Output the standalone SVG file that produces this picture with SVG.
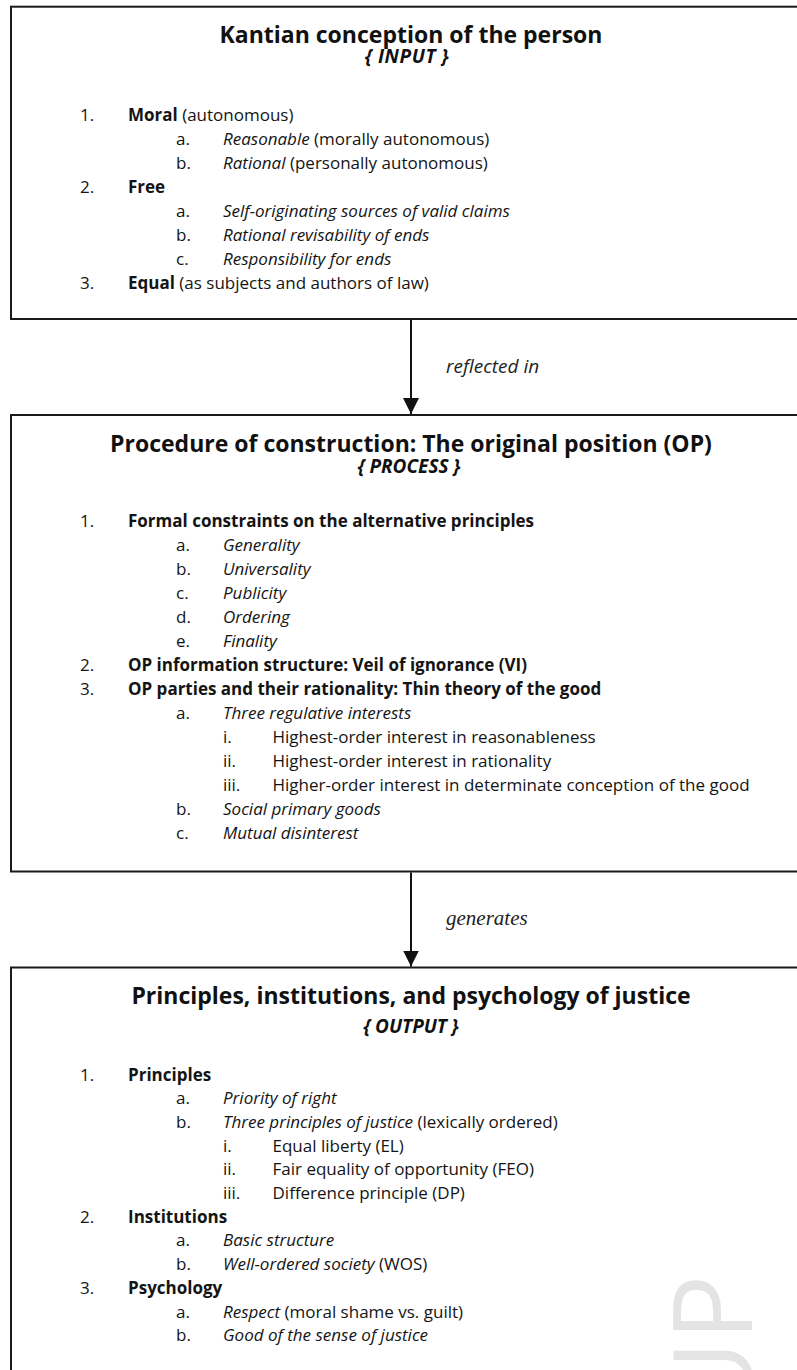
<svg xmlns="http://www.w3.org/2000/svg" width="797" height="1370" viewBox="0 0 797 1370">
  <style>
    .t { font-family: "Open Sans", "Noto Sans", sans-serif; font-size: 17px; fill: #141414; }
    .b { font-weight: 700; }
    .i { font-style: italic; }
    .title { font-family: "Open Sans", "Noto Sans", sans-serif; font-size: 23px; font-weight: 700; fill: #111; text-anchor: middle; }
    .sub { font-family: "Open Sans", "Noto Sans", sans-serif; font-size: 19px; font-weight: 700; font-style: italic; fill: #111; text-anchor: middle; }
    .box { fill: #fff; stroke: #1a1a1a; stroke-width: 2; }
    .edge { stroke: #111; stroke-width: 2; fill: none; }
    .lbl-sans { font-family: "Open Sans", "Noto Sans", sans-serif; font-size: 19px; font-style: italic; fill: #222; }
    .lbl-serif { font-family: "Liberation Serif", "Times New Roman", serif; font-size: 21px; font-style: italic; fill: #222; }
    .mark { font-family: "Open Sans", "Noto Sans", sans-serif; font-size: 110px; fill: #e4e4e4; }
  </style>
  <defs>
    <marker id="arrow" viewBox="0 0 16 16" refX="16" refY="8" markerWidth="16" markerHeight="16" markerUnits="userSpaceOnUse" orient="auto">
      <path d="M0,0 L16,8 L0,16 z" fill="#111"/>
    </marker>
  </defs>

  <rect width="797" height="1370" fill="#fff"/>

  <!-- INPUT: Kantian conception of the person -->
  <g id="input">
    <rect class="box" x="11" y="6.7" width="820" height="312.3"/>
    <text class="title" x="411" y="43.3">Kantian conception of the person</text>
    <text class="sub" x="407" y="63.3" letter-spacing="0.6">{ INPUT }</text>
    <g class="t">
      <text x="80" y="120.5">1.</text>
      <text x="128" y="120.5"><tspan class="b">Moral</tspan> (autonomous)</text>
      <text x="176" y="144.5">a.</text>
      <text x="223" y="144.5"><tspan class="i">Reasonable</tspan> (morally autonomous)</text>
      <text x="176" y="168.5">b.</text>
      <text x="223" y="168.5"><tspan class="i">Rational</tspan> (personally autonomous)</text>
      <text x="80" y="192.5">2.</text>
      <text x="128" y="192.5" class="b">Free</text>
      <text x="176" y="216.5">a.</text>
      <text x="223" y="216.5" class="i">Self-originating sources of valid claims</text>
      <text x="176" y="240.5">b.</text>
      <text x="223" y="240.5" class="i">Rational revisability of ends</text>
      <text x="176" y="264.5">c.</text>
      <text x="223" y="264.5" class="i">Responsibility for ends</text>
      <text x="80" y="288.5">3.</text>
      <text x="128" y="288.5"><tspan class="b">Equal</tspan> (as subjects and authors of law)</text>
    </g>
  </g>

  <!-- PROCESS: the original position -->
  <g id="process">
    <rect class="box" x="11" y="415" width="820" height="456.5"/>
    <text class="title" x="411" y="451.7">Procedure of construction: The original position (OP)</text>
    <text class="sub" x="409" y="472.7">{ PROCESS }</text>
    <g class="t">
      <text x="80" y="526.5">1.</text>
      <text x="128" y="526.5" class="b">Formal constraints on the alternative principles</text>
      <text x="176" y="550.5">a.</text>
      <text x="223" y="550.5" class="i">Generality</text>
      <text x="176" y="574.5">b.</text>
      <text x="223" y="574.5" class="i">Universality</text>
      <text x="176" y="598.5">c.</text>
      <text x="223" y="598.5" class="i">Publicity</text>
      <text x="176" y="622.5">d.</text>
      <text x="223" y="622.5" class="i">Ordering</text>
      <text x="176" y="646.5">e.</text>
      <text x="223" y="646.5" class="i">Finality</text>
      <text x="80" y="670.5">2.</text>
      <text x="128" y="670.5" class="b">OP information structure: Veil of ignorance (VI)</text>
      <text x="80" y="694.5">3.</text>
      <text x="128" y="694.5" class="b">OP parties and their rationality: Thin theory of the good</text>
      <text x="176" y="718.5">a.</text>
      <text x="223" y="718.5" class="i">Three regulative interests</text>
      <text x="223" y="742.5">i.</text>
      <text x="272.5" y="742.5">Highest-order interest in reasonableness</text>
      <text x="223" y="766.5">ii.</text>
      <text x="272.5" y="766.5">Highest-order interest in rationality</text>
      <text x="223" y="790.5">iii.</text>
      <text x="272.5" y="790.5">Higher-order interest in determinate conception of the good</text>
      <text x="176" y="814.5">b.</text>
      <text x="223" y="814.5" class="i">Social primary goods</text>
      <text x="176" y="838.5">c.</text>
      <text x="223" y="838.5" class="i">Mutual disinterest</text>
    </g>
  </g>

  <!-- OUTPUT: principles, institutions, psychology -->
  <g id="output">
    <rect class="box" x="11" y="967.5" width="820" height="440"/>
    <!-- faint publisher mark in the lower right corner, behind the list -->
    <g transform="translate(752,1341) rotate(-90)">
      <text class="mark" x="-80" y="0">UP</text>
    </g>
    <text class="title" x="411" y="1004" font-size="23.2">Principles, institutions, and psychology of justice</text>
    <text class="sub" x="411" y="1032.7">{ OUTPUT }</text>
    <g class="t">
      <text x="80" y="1080.5">1.</text>
      <text x="128" y="1080.5" class="b">Principles</text>
      <text x="176" y="1104.2">a.</text>
      <text x="223" y="1104.2" class="i">Priority of right</text>
      <text x="176" y="1127.9">b.</text>
      <text x="223" y="1127.9"><tspan class="i">Three principles of justice</tspan> (lexically ordered)</text>
      <text x="223" y="1151.6">i.</text>
      <text x="272.5" y="1151.6">Equal liberty (EL)</text>
      <text x="223" y="1175.3">ii.</text>
      <text x="272.5" y="1175.3">Fair equality of opportunity (FEO)</text>
      <text x="223" y="1199">iii.</text>
      <text x="272.5" y="1199">Difference principle (DP)</text>
      <text x="80" y="1222.7">2.</text>
      <text x="128" y="1222.7" class="b">Institutions</text>
      <text x="176" y="1246.4">a.</text>
      <text x="223" y="1246.4" class="i">Basic structure</text>
      <text x="176" y="1270.1">b.</text>
      <text x="223" y="1270.1"><tspan class="i">Well-ordered society</tspan> (WOS)</text>
      <text x="80" y="1293.8">3.</text>
      <text x="128" y="1293.8" class="b">Psychology</text>
      <text x="176" y="1317.5">a.</text>
      <text x="223" y="1317.5"><tspan class="i">Respect</tspan> (moral shame vs. guilt)</text>
      <text x="176" y="1341.2">b.</text>
      <text x="223" y="1341.2" class="i">Good of the sense of justice</text>
    </g>
  </g>

  <!-- connectors -->
  <g id="connectors">
    <line class="edge" x1="411" y1="320" x2="411" y2="414" marker-end="url(#arrow)"/>
    <text class="lbl-sans" x="446" y="373">reflected in</text>
    <line class="edge" x1="411" y1="872.5" x2="411" y2="966.5" marker-end="url(#arrow)"/>
    <text class="lbl-serif" x="446" y="925">generates</text>
  </g>
</svg>
